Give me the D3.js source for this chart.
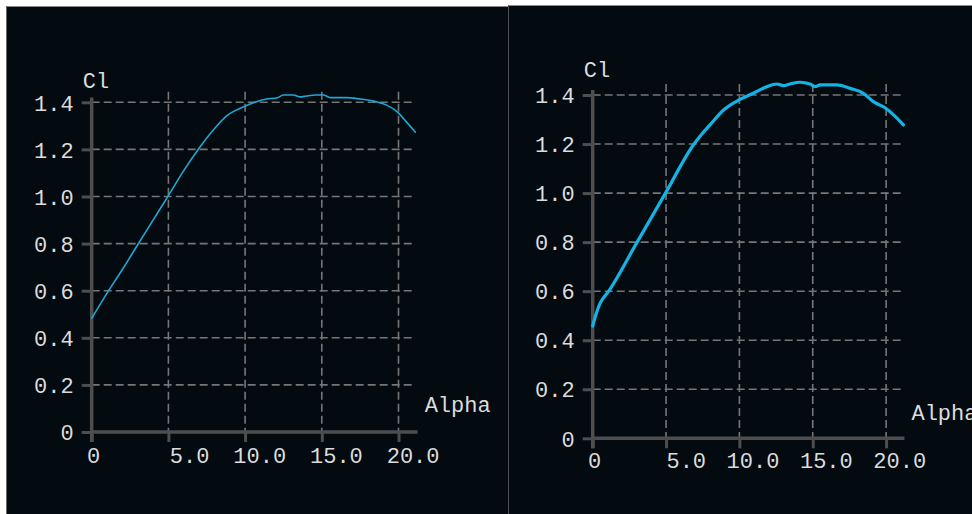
<!DOCTYPE html>
<html>
<head>
<meta charset="utf-8">
<script src="https://cdn.jsdelivr.net/npm/d3@7/dist/d3.min.js"></script>
<style>
  html, body { margin: 0; padding: 0; background: #ffffff; }
  svg { display: block; }
  text { font-family: "Liberation Mono", "Courier New", monospace; fill: #dcdcdc; }
</style>
</head>
<body>
<svg id="chart" width="972" height="514"></svg>
<script>
// ---- data ----
const xTickValues = [0, 5, 10, 15, 20];
const xTickLabels = ["0", "5.0", "10.0", "15.0", "20.0"];
const yTickValues = [0, 0.2, 0.4, 0.6, 0.8, 1.0, 1.2, 1.4];
const yTickLabels = ["0", "0.2", "0.4", "0.6", "0.8", "1.0", "1.2", "1.4"];
const xAxisTitle = "Alpha";
const yAxisTitle = "Cl";

const alphaLeft = [0, 1, 2, 3, 4, 5, 6, 7, 7.9, 8.8, 9.8, 10.5, 11.4, 12.06, 12.5, 13.15, 13.6, 14.0, 14.6, 15.1, 15.55, 16.6, 17.5, 18.4, 19.2, 19.9, 20.5, 21.1];
const clLeft    = [0.483, 0.59, 0.69, 0.795, 0.9, 1.004, 1.11, 1.205, 1.28, 1.342, 1.378, 1.397, 1.414, 1.418, 1.431, 1.431, 1.423, 1.427, 1.431, 1.431, 1.42, 1.42, 1.414, 1.405, 1.389, 1.36, 1.318, 1.273];

const alphaRight = [0, 0.25, 0.5, 1.07, 3.0, 5.0, 6.86, 7.4, 8.0, 8.9, 10.0, 10.95, 11.86, 12.54, 13.0, 13.45, 14.13, 14.81, 15.16, 15.5, 16.64, 17.55, 18.45, 19.13, 19.93, 20.6, 21.18];
const clRight    = [0.458, 0.51, 0.55, 0.598, 0.797, 1.004, 1.196, 1.238, 1.278, 1.338, 1.381, 1.407, 1.434, 1.445, 1.438, 1.445, 1.452, 1.445, 1.434, 1.441, 1.441, 1.427, 1.407, 1.373, 1.348, 1.314, 1.278];

// ---- layout ----
const svg = d3.select("#chart");
const BG = "#030a10";

// panel backgrounds
svg.append("rect").attr("x", 6).attr("y", 6).attr("width", 502).attr("height", 508).attr("fill", BG);
svg.append("line").attr("x1", 6).attr("x2", 508).attr("y1", 6.5).attr("y2", 6.5).attr("stroke", "#8a8a8a").attr("stroke-width", 1);
svg.append("line").attr("x1", 6.5).attr("x2", 6.5).attr("y1", 6).attr("y2", 514).attr("stroke", "#6a6a6a").attr("stroke-width", 1);
svg.append("rect").attr("x", 508).attr("y", 5).attr("width", 464).attr("height", 509).attr("fill", BG);
svg.append("line").attr("x1", 508).attr("x2", 972).attr("y1", 5.5).attr("y2", 5.5).attr("stroke", "#8a8a8a").attr("stroke-width", 1);
svg.append("line").attr("x1", 508.5).attr("x2", 508.5).attr("y1", 5).attr("y2", 514).attr("stroke", "#4a4f55").attr("stroke-width", 1);

function drawPanel(cfg, alphas, cls) {
  const x = d3.scaleLinear().domain([0, 20]).range([cfg.x0, cfg.x0 + 20 * cfg.xUnit]);
  const y = d3.scaleLinear().domain([0, 1.4]).range([cfg.y0, cfg.y0 - 1.4 * cfg.yUnit]);
  const g = svg.append("g");
  const gridColor = "#767676";
  const axisColor = "#4e4e4e";

  // horizontal grid
  g.selectAll(".hg").data(yTickValues.filter(v => v > 0)).enter().append("line")
    .attr("x1", x(0)).attr("x2", x(21.05))
    .attr("y1", d => y(d)).attr("y2", d => y(d))
    .attr("stroke", gridColor).attr("stroke-width", 1.6).attr("stroke-dasharray", "8,4");
  // vertical grid
  g.selectAll(".vg").data(xTickValues.filter(v => v > 0)).enter().append("line")
    .attr("x1", d => x(d)).attr("x2", d => x(d))
    .attr("y1", y(1.445)).attr("y2", y(0))
    .attr("stroke", gridColor).attr("stroke-width", 1.6).attr("stroke-dasharray", "8,4");

  // axes via d3 axis
  const xAxis = d3.axisBottom(x).tickValues(xTickValues).tickSize(10).tickFormat((d, i) => xTickLabels[i]);
  const yAxis = d3.axisLeft(y).tickValues(yTickValues).tickSize(10).tickFormat((d, i) => yTickLabels[i]);

  const gx = g.append("g").attr("transform", `translate(0,${y(0)})`).call(xAxis);
  gx.select(".domain").remove();
  gx.selectAll(".tick line").attr("stroke", axisColor).attr("stroke-width", 3);
  gx.selectAll(".tick text").attr("dy", null).attr("y", cfg.xLabelDy)
    .attr("text-anchor", d => d === 0 ? "middle" : "end")
    .attr("x", d => d === 0 ? 1.5 : cfg.labelEnd)
    .style("font-size", cfg.fs + "px").attr("fill", "#dcdcdc");

  const gy = g.append("g").attr("transform", `translate(${x(0)},0)`).call(yAxis);
  gy.select(".domain").remove();
  gy.selectAll(".tick line").attr("stroke", axisColor).attr("stroke-width", 3);
  gy.selectAll(".tick text").attr("x", -18).attr("dy", "0.35em")
    .style("font-size", cfg.fs + "px").attr("fill", "#dcdcdc");

  // axis lines
  g.append("line").attr("x1", x(0) - 1.5).attr("x2", x(21.25)).attr("y1", y(0)).attr("y2", y(0))
    .attr("stroke", axisColor).attr("stroke-width", 3.5);
  g.append("line").attr("x1", x(0)).attr("x2", x(0)).attr("y1", y(0) + 10).attr("y2", y(1.42))
    .attr("stroke", axisColor).attr("stroke-width", 3.5);

  // titles
  g.append("text").attr("x", x(0) - 9).attr("y", y(1.4) + cfg.clDy).text(yAxisTitle)
    .style("font-size", cfg.fs + "px");
  g.append("text").attr("x", x(21.25) + 7).attr("y", y(0) - cfg.alphaUp).text(xAxisTitle)
    .style("font-size", cfg.fs + "px");

  // curve
  const pts = alphas.map((a, i) => [a, cls[i]]);
  const line = d3.line().x(d => x(d[0])).y(d => y(d[1])).curve(d3.curveMonotoneX);
  g.append("path").datum(pts).attr("d", line)
    .attr("fill", "none").attr("stroke", cfg.color).attr("stroke-width", cfg.lw)
    .attr("stroke-linejoin", "round").attr("stroke-linecap", "round");
}

drawPanel({ x0: 91.7, xUnit: 15.34, y0: 432, yUnit: 235.5, fs: 22, xLabelDy: 31, clDy: -14, alphaUp: 20,
            labelEnd: 40.5, color: "#1ca9d6", lw: 1.6 }, alphaLeft, clLeft);
drawPanel({ x0: 592.7, xUnit: 14.67, y0: 438.3, yUnit: 245.2, fs: 22, xLabelDy: 30, clDy: -18, alphaUp: 18,
            labelEnd: 39.5, color: "#12b4e6", lw: 3.2 }, alphaRight, clRight);
</script>
</body>
</html>
